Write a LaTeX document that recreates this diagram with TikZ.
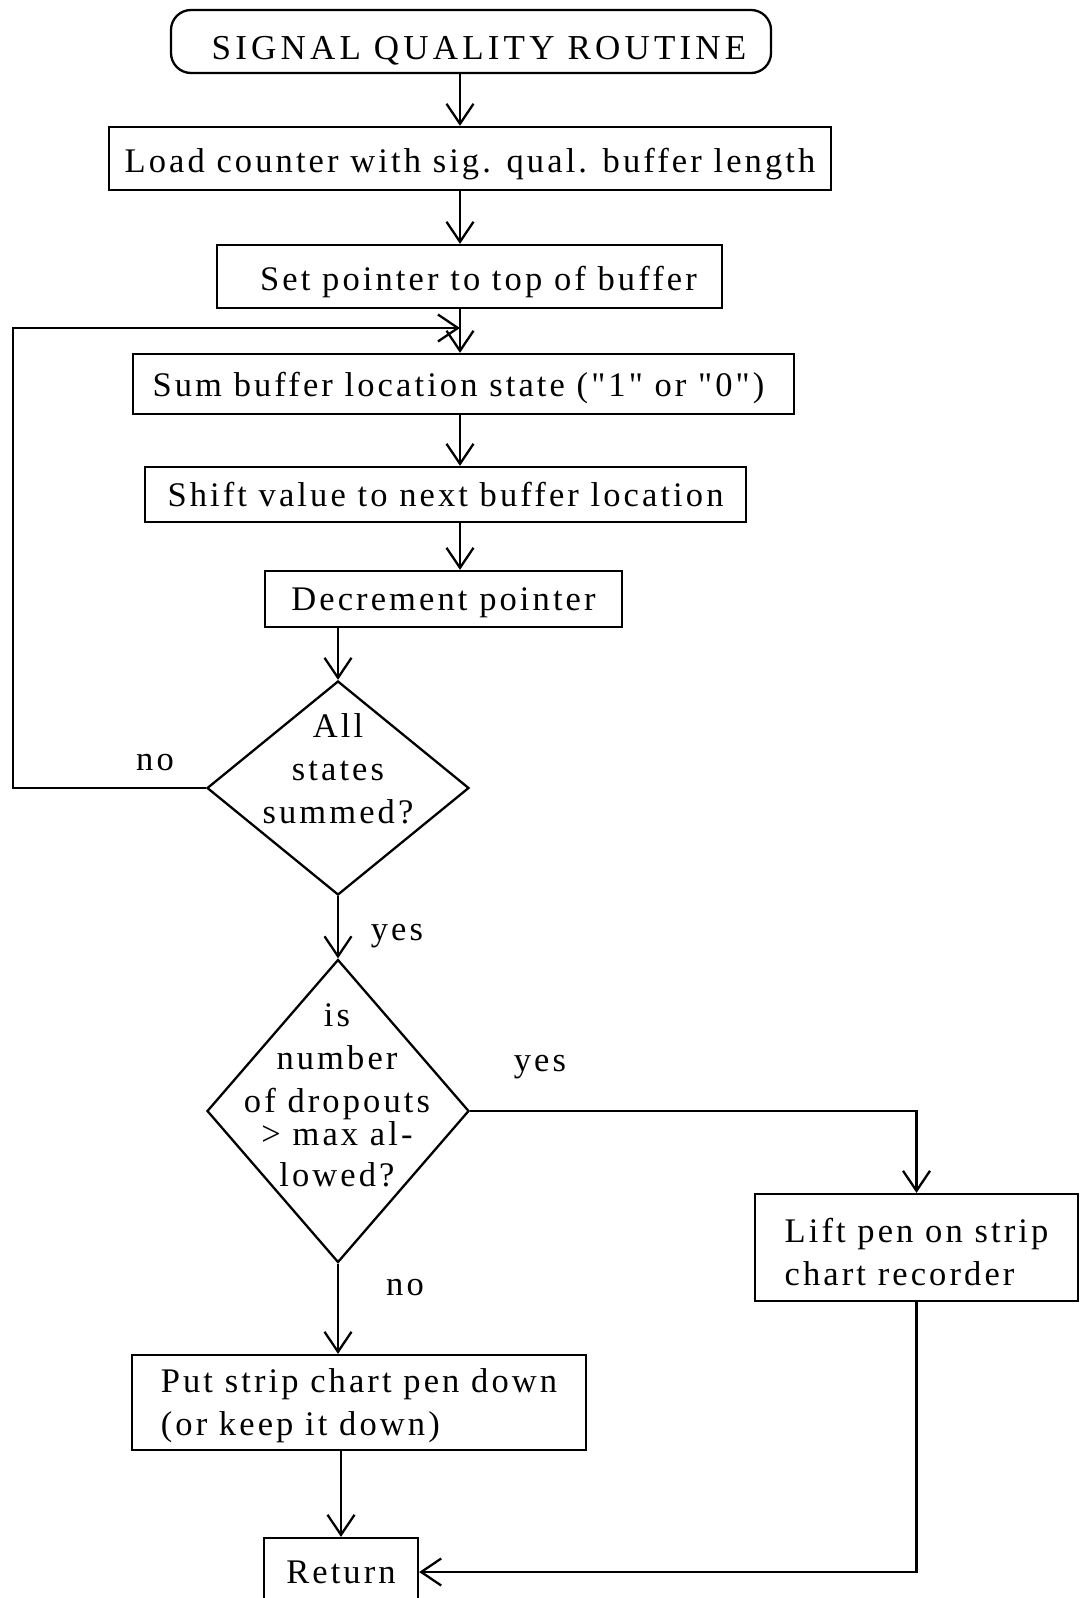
\documentclass[tikz,border=0pt]{standalone}
\usepackage{fontspec}
\setmainfont{Liberation Serif}[LetterSpace=9,Ligatures=TeXOff]
\newfontfamily\titlefont{Liberation Serif}[LetterSpace=12,Ligatures=TeXOff]
\usetikzlibrary{arrows.meta,shapes.geometric}
\begin{document}
\begin{tikzpicture}[x=1pt,y=-1pt,line width=2.3pt,
  box/.style={draw,rectangle,inner sep=0pt,text depth=0pt,font=\fontsize{34.5}{43}\selectfont},
  decision/.style={draw,diamond,inner sep=0pt,aspect=1},
  dtext/.style={align=center,inner sep=0pt,font=\fontsize{34.5}{43}\selectfont},
  lbl/.style={inner sep=0pt,text depth=0pt,font=\fontsize{34.5}{43}\selectfont},
  conn/.style={draw,-{Straight Barb[length=20pt,width=27pt]}}]
\useasboundingbox (0,0) rectangle (1080,1598);
\fill[white] (0,0) rectangle (1080,1598);

% main column axes
\coordinate (ax) at (460,0);
\coordinate (lx) at (13,0);
\coordinate (loopin) at (460,328);

% process boxes
\node[box,rounded corners=20pt,minimum width=600pt,minimum height=63pt,text height=36pt,
      font=\titlefont\fontsize{35}{40}\selectfont] (start) at (471,41.5)
  {\hspace*{16pt}SIGNAL QUALITY ROUTINE};
\node[box,text height=28pt,minimum width=722pt,minimum height=63pt] (load) at (470,158.5)
  {Load counter with sig. qual. buffer length};
\node[box,text height=28pt,minimum width=505pt,minimum height=63pt] (set) at (469.5,276.5)
  {\hspace*{18pt}Set pointer to top of buffer};
\node[box,minimum width=661pt,minimum height=60pt] (sum) at (463.5,384)
  {Sum buffer location state ("1" or "0")\hspace*{10pt}};
\node[box,minimum width=601pt,minimum height=55pt] (shift) at (445.5,494.5)
  {Shift value to next buffer location};
\node[box,minimum width=357pt,minimum height=56pt] (dec) at (443.5,599)
  {Decrement pointer};

% decisions
\node[decision,minimum width=262pt,minimum height=214pt] (d1) at (338,788) {};
\node[dtext] (d1t) at (338,769) {All\\states\\summed?};
\node[decision,minimum width=262pt,minimum height=303pt] (d2) at (338,1111) {};
\node[dtext] (d2t) at (337,1095) {is\\number\\of dropouts\\[-10pt]> max al-\\[-2pt]lowed?};

% outcome boxes
\node[box,text depth=,align=left,minimum width=323pt,minimum height=107pt] (lift) at (916.5,1247.5)
  {\rule{0pt}{34pt}Lift pen on strip\\chart recorder};
\node[box,text depth=,align=left,minimum width=454pt,minimum height=95pt] (put) at (359,1402.5)
  {\rule{0pt}{31pt}Put strip chart pen down\\(or keep it down)};
\node[box,minimum width=154pt,minimum height=68pt] (ret) at (341,1572) {Return};

% branch labels
\node[lbl] (no1) at (155,762) {no};
\node[lbl] (yes1) at (397,932) {yes};
\node[lbl] (yes2) at (540,1063) {yes};
\node[lbl] (no2) at (405,1287) {no};

% connectors
\draw[conn] (start.south -| ax) -- (load.north -| ax);
\draw[conn] (load.south -| ax) -- (set.north -| ax);
\draw[conn] (set.south -| ax) -- (sum.north -| ax);
\draw[conn] (sum.south -| ax) -- (shift.north -| ax);
\draw[conn] (shift.south -| ax) -- (dec.north -| ax);
\draw[conn] (dec.south -| d1.north) -- (d1.north);
\draw[conn] (d1.west) -| (lx |- loopin) -- (loopin);
\draw[conn] (d1.south) -- (d2.north);
\draw[conn] (d2.east) -| (lift.north);
\draw[conn] (d2.south) -- (put.north -| d2.south);
\draw[conn] (put.south -| ret.north) -- (ret.north);
\draw[conn] (lift.south) |- (ret.east);
\end{tikzpicture}
\end{document}
